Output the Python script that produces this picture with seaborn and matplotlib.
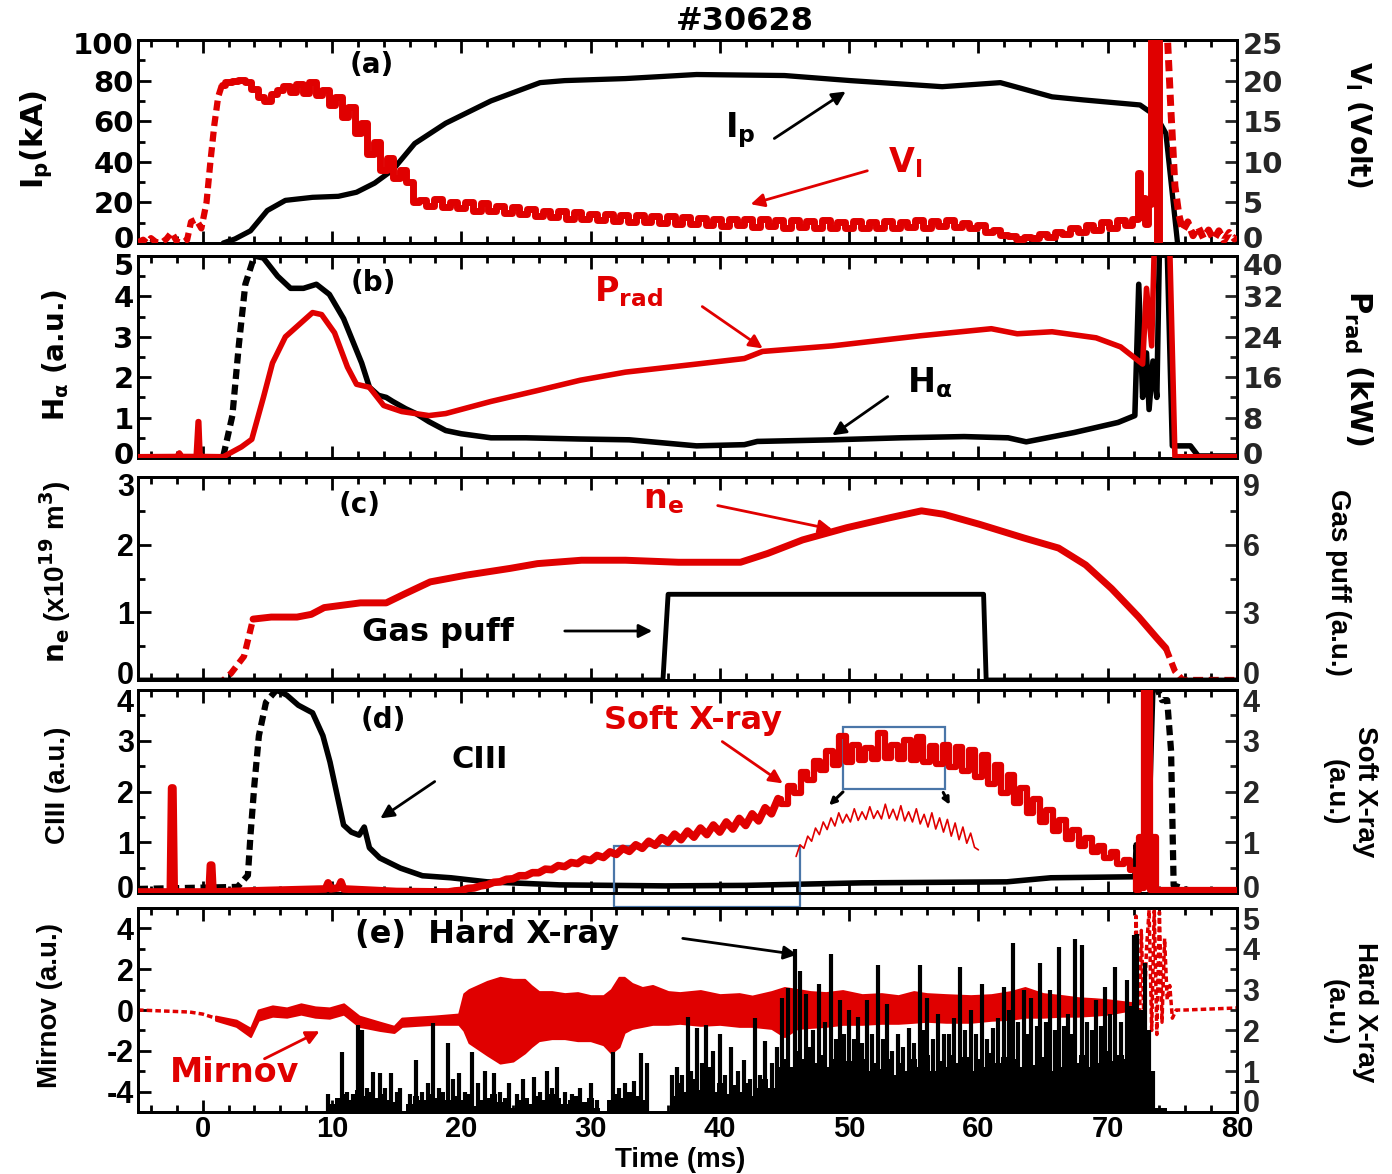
import numpy as np
import matplotlib
matplotlib.use("Agg")
import matplotlib.pyplot as plt
import seaborn as sns
from matplotlib.ticker import MultipleLocator
from matplotlib.patches import Rectangle, FancyArrowPatch
from matplotlib.transforms import ScaledTranslation

# ---------------- data ----------------
# (a) plasma current (kA) and loop voltage (V)
ip_t = [1.6, 2.5, 3.7, 5.0, 6.4, 8.5, 10.5, 11.9, 13.3, 14.7, 16.4, 18.8, 22.3, 26.1, 28.0,
        32.7, 38.2, 45.0, 50.1, 57.2, 61.7, 65.7, 68.1, 72.5, 73.4, 73.8, 74.5, 75.4]
ip_v = [0, 2, 6, 16, 21, 22.5, 23, 25, 29.5, 36, 49, 59, 70, 79, 80,
        81, 83, 82.5, 80, 77, 79, 72, 70.5, 68, 64, 62, 54, 0]

vl_pre_t = [-5, -4.6, -4.3, -4.0, -3.6, -3.2, -2.8, -2.4, -2.0, -1.6, -1.2, -0.9, -0.5, -0.1,
            0.3, 0.6, 0.9, 1.2, 1.5]
vl_pre_v = [0.1, 0.4, 0.0, 0.6, 0.1, 0.0, 0.5, 1.3, 0.2, 0.0, 0.4, 2.6, 2.9, 1.8,
            5.0, 10.0, 14.5, 18.0, 19.5]
vl_t = [1.5, 2, 2.5, 3, 3.5, 4, 4.5, 5, 5.5, 6, 6.5, 7, 7.5, 8, 8.5, 9, 9.5, 10, 10.5, 11,
        11.5, 12, 12.5, 13, 13.5, 14, 14.5, 15, 15.5, 16, 16.5,
        17, 17.6, 18.2, 18.8, 19.4, 20, 20.6, 21.2, 21.8, 22.4, 23, 23.6, 24.2, 24.8, 25.4,
        26, 26.6, 27.2, 27.8, 28.4, 29, 29.6, 30.2, 30.8, 31.4, 32, 32.6, 33.2, 33.8, 34.4,
        35, 35.6, 36.2, 36.8, 37.4, 38, 38.6, 39.2, 39.8, 40.4, 41, 41.6, 42.2, 42.8, 43.4,
        44, 44.6, 45.2, 45.8, 46.4, 47, 47.6, 48.2, 48.8, 49.4, 50, 50.6, 51.2, 51.8, 52.4,
        53, 53.6, 54.2, 54.8, 55.4, 56, 56.6, 57.2, 57.8, 58.4, 59, 59.6, 60.2, 60.8, 61.4,
        62, 62.6, 63.2, 63.8, 64.4, 65, 65.6, 66.2, 66.8, 67.4, 68, 68.6, 69.2, 69.8, 70.4,
        71, 71.6, 72.2, 72.45, 72.6, 72.8, 73.0, 73.2, 73.45, 73.7, 73.9, 74.1]
vl_v = [19.5, 19.8, 20.0, 20.1, 19.8, 19.0, 18.0, 17.5, 18.3, 18.8, 19.3, 18.6, 19.6, 18.5, 19.8,
        18.2, 18.8, 17.0, 18.0, 15.5, 16.8, 13.5, 14.8, 11.0, 12.5, 9.0, 10.5, 8.0, 9.0, 7.5, 5.0,
        5.3, 4.6, 5.4, 4.4, 5.1, 4.3, 5.0, 4.0, 4.9, 3.9, 4.6, 3.7, 4.4, 3.6, 4.2,
        3.3, 4.0, 3.2, 3.9, 3.0, 3.8, 3.0, 3.6, 2.8, 3.6, 2.7, 3.4, 2.6, 3.5, 2.6,
        3.3, 2.5, 3.3, 2.4, 3.2, 2.3, 3.1, 2.2, 3.0, 2.1, 3.0, 2.2, 2.9, 2.0, 2.9,
        2.1, 2.8, 1.9, 2.8, 2.0, 2.7, 1.9, 2.8, 1.8, 2.6, 1.9, 2.7, 1.8, 2.6, 1.9,
        2.7, 1.8, 2.6, 2.0, 2.8, 1.9, 2.7, 2.1, 2.8, 2.0, 2.5, 1.8, 2.2, 1.4, 1.6,
        1.0, 0.9, 0.5, 0.8, 0.6, 1.1, 0.8, 1.4, 1.1, 1.9, 1.3, 2.2, 1.6, 2.6, 1.9,
        2.8, 2.2, 3.0, 8.6, 3.2, 5.5, 2.4, 4.8, 26, 26, -0.5, 26]
vl_post_t = [74.1, 74.3, 74.6, 74.9, 75.2, 75.5, 75.8, 76.2, 76.6, 77.0, 77.4, 77.8, 78.2,
             78.6, 79.0, 79.4, 79.8, 80]
vl_post_v = [26, 26, 26, 16, 7, 3.5, 1.5, 2.6, 0.9, 2.0, 0.6, 1.6, 0.4, 1.5, 0.3, 1.3, 0.5, 0.8]

# (b) H-alpha (a.u.) and radiated power (kW)
ha_t = [1.6, 2.3, 2.8, 3.3, 4.0, 4.7, 5.8, 6.8, 7.8, 8.8, 9.8, 10.9, 11.6, 12.3, 12.9, 13.6,
        14.2, 14.7, 15.7, 16.5, 17.5, 18.8, 20, 22.3, 25, 29.2, 33, 38.2, 41.9, 42.9, 48.7, 54,
        58.9, 62.3, 63.7, 67.4, 70.8, 72.1, 72.4, 72.7, 73.0, 73.2, 73.5, 73.8, 74.0, 74.6,
        75.0, 76.4, 77, 80]
ha_v = [0.05, 1.05, 2.8, 4.3, 5.0, 4.95, 4.5, 4.2, 4.2, 4.3, 4.05, 3.45, 2.9, 2.35, 1.75, 1.55,
        1.5, 1.4, 1.22, 1.1, 0.9, 0.68, 0.6, 0.5, 0.5, 0.47, 0.45, 0.3, 0.33, 0.41, 0.45, 0.5,
        0.53, 0.5, 0.4, 0.63, 0.88, 1.05, 4.3, 1.5, 2.6, 1.2, 2.4, 1.5, 5.2, 5.2,
        0.3, 0.3, 0.05, 0.05]
prad_t = [-5, -2, -1.8, -1.6, -0.5, -0.35, -0.3, -0.2, -0.1, 1.6, 3.0, 3.8, 4.7, 5.4, 6.4, 7.1,
          8.5, 9.2, 10.2, 11.2, 11.9, 12.9, 14.0, 15.4, 17.5, 18.8, 22.3, 25.8, 29.2, 32.7,
          38.2, 41.9, 43.3, 48.7, 55.5, 61, 63, 65.7, 69.1, 71, 72.7, 73.0, 73.4, 73.6, 74.8,
          75.2, 80]
prad_v = [0.25, 0.3, 1.0, 0.3, 0.3, 7.2, 7.2, 0.3, 0.3, 0.25, 2.2, 3.7, 12, 18.8, 24, 25.6,
          28.8, 28.4, 24.8, 18, 14.6, 14, 10.4, 9.2, 8.4, 8.8, 11.2, 13.3, 15.4, 17,
          18.6, 19.7, 21.1, 22.2, 24.2, 25.6, 24.6, 25, 23.8, 22, 18.6, 33.6, 22.2, 41.6, 41.6,
          0.25, 0.25]

# (c) line-averaged density (1e19 m^-3) and gas puff (a.u.)
ne_t = [-5, 1.5, 2.2, 3.2, 3.9, 5.3, 7.3, 8.4, 9.4, 12.2, 14.2, 15.6, 17.6, 20.4, 23.8, 25.9,
        29.3, 32.7, 36.8, 41.6, 43.7, 46.4, 49.8, 53.2, 55.6, 57.3, 60.1, 63.5, 66.2, 68.3,
        70.3, 72.4, 73.8, 74.5, 75.2, 75.8, 80]
ne_v = [-0.02, -0.02, 0.1, 0.35, 0.9, 0.93, 0.93, 0.97, 1.07, 1.14, 1.14, 1.27, 1.45, 1.55,
        1.65, 1.72, 1.77, 1.77, 1.74, 1.74, 1.87, 2.07, 2.25, 2.4, 2.5, 2.45, 2.3, 2.1, 1.95,
        1.7, 1.35, 0.93, 0.62, 0.47, 0.13, 0.0, 0.0]
gas_t = [-5, 35.6, 36.0, 60.4, 60.6, 80]
gas_v = [0, 0, 3.8, 3.8, 0, 0]

# (d) CIII (a.u.) and soft X-ray (a.u.)
c3_t = [-5, 2.7, 3.5, 3.7, 4.0, 4.35, 4.9, 5.7, 6.5, 7.4, 8.5, 9.3, 9.85, 10.4, 10.9, 11.5,
        12.1, 12.5, 12.9, 13.7, 15.3, 17.0, 19.2, 22.0, 27.6, 35.8, 42, 51, 62.2, 65.6, 72.1,
        72.2, 72.4, 72.6, 72.8, 73.1, 73.5, 73.7, 74.2, 74.6, 74.9, 75.1, 76.3, 80]
c3_v = [0.08, 0.12, 0.35, 1.14, 2.13, 3.1, 3.76, 4.0, 3.9, 3.7, 3.55, 3.1, 2.58, 1.93, 1.34,
        1.2, 1.14, 1.3, 0.89, 0.69, 0.49, 0.34, 0.3, 0.22, 0.16, 0.14, 0.15, 0.2, 0.22, 0.3,
        0.32, 0.95, 0.5, 0.85, 0.4, 0.6, 4.1, 4.1, 3.8, 3.8, 2.8, 0.15, 0.05, 0.05]
sxr_t = [-5, -2.5, -2.4, -2.3, -2.2, 0.5, 0.6, 0.7, 0.8, 5, 9.5, 9.7, 9.9, 10.5, 10.7, 10.9, 15,
         19.0, 19.5, 20.0, 20.5, 21.0, 21.5, 22.0, 22.5, 23.0, 23.5, 24.0, 24.5, 25.0, 25.5,
         26.0, 26.5, 27.0, 27.5, 28.0, 28.5, 29.0, 29.5, 30.0, 30.5, 31.0, 31.5, 32.0, 32.5,
         33.0, 33.5, 34.0, 34.5, 35.0, 35.5, 36.0, 36.5, 37.0, 37.5, 38.0, 38.5, 39.0, 39.5,
         40.0, 40.5, 41.0, 41.5, 42.0, 42.5, 43.0, 43.5, 44.0, 44.5, 45.0, 45.5, 46.0, 46.5,
         47.0, 47.5, 48.0, 48.5, 49.0, 49.5, 50.0, 50.5, 51.0, 51.5, 52.0, 52.5, 53.0, 53.5,
         54.0, 54.5, 55.0, 55.5, 56.0, 56.5, 57.0, 57.5, 58.0, 58.5, 59.0, 59.5, 60.0, 60.5,
         61.0, 61.5, 62.0, 62.5, 63.0, 63.5, 64.0, 64.5, 65.0, 65.5, 66.0, 66.5, 67.0, 67.5,
         68.0, 68.5, 69.0, 69.5, 70.0, 70.5, 71.0, 71.5, 72.0,
         72.3, 72.5, 72.7, 72.9, 73.2, 73.4, 73.6, 73.8, 74.0, 80]
sxr_v = [0.02, 0.02, 2.07, 2.07, 0.02, 0.02, 0.55, 0.55, 0.02, 0.05, 0.08, 0.2, 0.08, 0.1, 0.22,
         0.08, 0.03,
         0.02, 0.04, 0.05, 0.09, 0.10, 0.14, 0.16, 0.21, 0.22, 0.27, 0.28, 0.34, 0.34, 0.40,
         0.40, 0.47, 0.46, 0.54, 0.52, 0.60, 0.58, 0.67, 0.64, 0.74, 0.70, 0.81, 0.76, 0.88,
         0.82, 0.95, 0.88, 1.02, 0.94, 1.09, 1.00, 1.16, 1.05, 1.22, 1.10, 1.28, 1.15, 1.34,
         1.20, 1.40, 1.26, 1.47, 1.33, 1.56, 1.42, 1.68, 1.56, 1.86, 1.75, 2.10, 1.98, 2.38,
         2.22, 2.60, 2.42, 2.80, 2.52, 3.10, 2.58, 2.92, 2.62, 2.85, 2.64, 3.15, 2.66, 2.92,
         2.64, 3.02, 2.62, 3.08, 2.58, 2.90, 2.54, 2.92, 2.48, 2.88, 2.40, 2.82, 2.28, 2.72,
         2.14, 2.52, 1.98, 2.32, 1.78, 2.06, 1.58, 1.86, 1.40, 1.64, 1.22, 1.44, 1.06, 1.24,
         0.92, 1.08, 0.80, 0.93, 0.68, 0.80, 0.58, 0.66, 0.45,
         0.05, 1.1, 0.1, 4.3, 4.3, 0.05, 1.1, 0.05, 0.05, 0.05]
inset_t = [45.9, 46.2, 46.5, 46.8, 47.1, 47.4, 47.7, 48.0, 48.3, 48.6, 48.9, 49.2, 49.5, 49.8,
           50.1, 50.4, 50.7, 51.0, 51.3, 51.6, 51.9, 52.2, 52.5, 52.8, 53.1, 53.4, 53.7, 54.0,
           54.3, 54.6, 54.9, 55.2, 55.5, 55.8, 56.1, 56.4, 56.7, 57.0, 57.3, 57.6, 57.9, 58.2,
           58.5, 58.8, 59.1, 59.4, 59.7, 60.0]
inset_v = [0.72, 0.95, 0.88, 1.12, 1.02, 1.28, 1.15, 1.40, 1.25, 1.48, 1.32, 1.58, 1.38, 1.55,
           1.40, 1.66, 1.43, 1.60, 1.45, 1.70, 1.47, 1.62, 1.46, 1.75, 1.47, 1.65, 1.44, 1.72,
           1.42, 1.60, 1.40, 1.66, 1.36, 1.55, 1.30, 1.58, 1.26, 1.48, 1.20, 1.45, 1.12, 1.38,
           1.05, 1.30, 0.98, 1.18, 0.90, 0.85]

# (e) Mirnov envelope (a.u.) and hard X-ray spikes (a.u.)
mir_t = [1.0, 2.6, 3.7, 4.3, 5.4, 6.5, 7.6, 8.7, 9.8, 10.9, 12.1, 13.7, 14.8, 15.4, 16.6, 17.9,
         19.8, 20.2, 20.6, 21.3, 22.0, 23.0, 24.0, 24.9, 25.4, 26.0, 27.0, 28.0, 29.0, 30.0,
         31.0, 31.6, 32.2, 32.6, 33.2, 34.0, 34.8, 36.0, 36.9, 38.5, 40.0, 41.5, 42.5, 44.0,
         45.0, 46.0, 47.0, 48.2, 49.5, 51.0, 52.5, 53.8, 55.0, 56.0, 57.5, 59.4, 61.0, 62.5,
         63.6, 65.0, 66.5, 67.7, 69.0, 70.0, 71.3, 72.0]
mir_hi = [-0.3, -0.5, -0.9, 0.0, 0.2, 0.1, 0.3, 0.15, 0.1, 0.3, -0.3, -0.6, -0.8, -0.4, -0.35,
          -0.3, -0.2, 0.8, 1.0, 1.2, 1.4, 1.6, 1.5, 1.5, 1.2, 0.9, 0.9, 0.8, 0.85, 0.7,
          0.7, 1.0, 1.6, 1.6, 1.3, 1.1, 1.2, 0.9, 0.85, 0.95, 0.75, 0.8, 0.68, 0.9,
          1.1, 1.0, 0.9, 0.85, 0.95, 0.75, 0.8, 0.7, 0.9, 0.8, 0.75, 0.7, 0.75, 0.9,
          1.1, 0.8, 0.7, 0.6, 0.55, 0.5, 0.4, 0.35]
mir_lo = [-0.5, -0.8, -1.3, -0.5, -0.3, -0.35, -0.2, -0.35, -0.4, -0.2, -0.8, -1.0, -1.1, -0.8,
          -0.75, -0.7, -0.7, -1.0, -1.6, -1.9, -2.2, -2.6, -2.5, -2.1, -1.8, -1.5, -1.4, -1.4,
          -1.5, -1.5, -1.7, -2.1, -1.8, -1.1, -0.9, -0.8, -0.7, -0.7, -0.65, -0.75, -0.7, -0.8,
          -0.8, -0.9, -1.3, -0.9, -0.85, -0.8, -0.7, -0.7, -0.65, -0.65, -0.6, -0.55, -0.6,
          -0.6, -0.5, -0.45, -0.35, -0.35, -0.3, -0.3, -0.25, -0.2, -0.05, -0.1]
mir_pre_t = [-5, -3, -1, 0, 1.0]
mir_pre_v = [0.0, -0.05, -0.1, -0.2, -0.4]
mir_post_t = [72.0, 72.2, 72.4, 72.6, 72.8, 73.0, 73.2, 73.4, 73.6, 73.8, 74.0, 74.2, 74.4,
              74.6, 74.8, 75.0, 75.3, 76, 78, 80]
mir_post_v = [0.2, 4.6, -2.4, 3.9, -0.5, 3.0, 4.9, -1.0, 5.0, -1.2, 4.8, -0.6, 3.5, 0.5, 1.2,
              -0.4, 0.0, 0.0, 0.05, 0.1]

hxr_t = [9.7, 10.8, 11.2, 11.6, 12.0, 12.3, 12.7, 13.2, 13.7, 14.1, 14.6, 15.0, 15.3, 16.0,
         16.5, 17.0, 17.4, 17.8, 18.3, 19.0, 19.4, 19.8, 20.3, 20.8, 21.3, 21.8, 22.5, 23.0,
         23.7, 24.3, 24.8, 25.6, 26.1, 26.6, 27.0, 27.4, 28.0, 28.6, 29.2, 30.0, 30.5, 31.7,
         32.2, 32.7, 33.4, 33.9, 34.4, 36.3, 36.7, 37.1, 37.5, 37.8, 38.2, 38.6, 38.9, 39.2,
         39.5, 40.0, 40.4, 40.9, 41.4, 41.9, 42.3, 42.7, 43.1, 43.5, 44.0, 44.4, 44.8, 45.3,
         45.8, 46.2, 46.7, 47.2, 47.7, 48.1, 48.6, 49.0, 49.3, 49.6, 50.0, 50.4, 50.7, 51.0,
         51.4, 51.8, 52.2, 52.6, 52.9, 53.3, 53.8, 54.2, 54.6, 55.0, 55.5, 55.8, 56.0, 56.5,
         56.9, 57.3, 57.7, 58.1, 58.6, 59.0, 59.4, 59.8, 60.3, 60.7, 61.1, 61.5, 62.0, 62.4,
         62.7, 63.1, 63.5, 63.8, 64.1, 64.5, 64.8, 65.2, 65.5, 65.9, 66.2, 66.6, 66.9, 67.2,
         67.5, 68.0, 68.4, 68.8, 69.1, 69.5, 69.8, 70.2, 70.6, 71.0, 71.5, 71.8, 72.0, 72.3,
         72.6, 72.9, 73.2, 73.5]
hxr_v = [0.45, 1.47, 0.5, 0.45, 2.13, 2.0, 0.6, 0.98, 0.95, 0.6, 0.95, 0.5, 0.6, 0.45,
         1.27, 0.5, 0.7, 2.19, 0.6, 1.69, 0.8, 0.95, 0.5, 1.47, 0.7, 1.0, 0.96, 0.5,
         0.7, 0.45, 0.8, 0.85, 0.5, 1.0, 0.6, 1.1, 0.5, 0.45, 0.6, 0.7, 0.3, 1.47,
         0.6, 0.7, 0.75, 1.45, 1.2, 0.9, 1.1, 0.9, 2.33, 1.0, 2.05, 1.2, 2.13, 1.1,
         1.5, 1.9, 0.9, 1.6, 1.0, 1.27, 0.8, 2.3, 0.9, 1.74, 1.2, 1.6, 2.8, 3.04,
         4.0, 3.46, 2.9, 2.0, 3.14, 2.2, 3.87, 1.8, 2.74, 1.9, 2.5, 1.8, 2.33, 1.7,
         2.74, 1.9, 3.6, 1.8, 2.65, 1.5, 1.9, 1.6, 2.07, 1.7, 3.6, 2.0, 2.8, 1.8,
         2.4, 1.9, 1.9, 2.3, 3.56, 2.0, 2.5, 1.9, 3.14, 1.8, 2.05, 2.3, 3.06, 2.5,
         4.13, 2.2, 2.98, 1.9, 2.8, 2.1, 3.66, 2.2, 2.98, 2.0, 4.05, 2.1, 2.4, 1.9,
         4.25, 4.09, 2.2, 2.0, 2.74, 2.1, 3.06, 2.4, 3.56, 2.2, 3.24, 2.6, 4.33, 4.37,
         2.5, 3.66, 2.0, 1.0]
hxr_base = [(9.5, 0), (10.0, 0.2), (10.5, 0.35), (11.0, 0.45), (11.5, 0.3), (12.0, 0.55),
            (12.5, 0.4), (13.0, 0.5), (13.5, 0.35), (14.0, 0.45), (14.5, 0.3), (15.0, 0.25),
            (15.5, 0.0), (16.0, 0.2), (16.5, 0.4), (17.0, 0.3), (17.5, 0.45), (18.0, 0.35),
            (18.5, 0.5), (19.0, 0.3), (19.5, 0.4), (20.0, 0.3), (20.5, 0.45), (21.0, 0.15),
            (21.5, 0.3), (22.0, 0.35), (22.5, 0.45), (23.0, 0.25), (23.5, 0.35), (24.0, 0.1),
            (24.5, 0.3), (25.0, 0.35), (25.5, 0.2), (26.0, 0.4), (26.5, 0.3), (27.0, 0.45),
            (27.5, 0.35), (28.0, 0.2), (28.5, 0.3), (29.0, 0.4), (29.5, 0.25), (30.0, 0.35),
            (30.5, 0.1), (31.0, 0.0), (31.5, 0.3), (32.0, 0.45), (32.5, 0.35), (33.0, 0.5),
            (33.5, 0.4), (34.0, 0.3), (34.5, 0.0), (36.0, 0.0), (36.5, 0.4), (37.0, 0.7),
            (37.5, 0.5), (38.0, 0.8), (38.5, 0.55), (39.0, 0.75), (39.5, 0.5), (40.0, 0.7),
            (40.5, 0.45), (41.0, 0.65), (41.5, 0.5), (42.0, 0.7), (42.5, 0.4), (43.0, 0.6),
            (43.5, 0.8), (44.0, 0.6), (44.5, 1.1), (45.0, 1.3), (45.5, 1.1), (46.0, 1.5),
            (46.5, 1.3), (47.0, 1.6), (47.5, 1.2), (48.0, 1.4), (48.5, 1.1), (49.0, 1.3),
            (49.5, 1.0), (50.0, 1.25), (50.5, 1.1), (51.0, 1.3), (51.5, 1.0), (52.0, 1.2),
            (52.5, 1.05), (53.0, 1.3), (53.5, 0.9), (54.0, 1.2), (54.5, 1.0), (55.0, 1.3),
            (55.5, 1.1), (56.0, 1.4), (56.5, 1.0), (57.0, 1.25), (57.5, 1.1), (58.0, 1.4),
            (58.5, 1.2), (59.0, 1.35), (59.5, 1.0), (60.0, 1.3), (60.5, 1.1), (61.0, 1.45),
            (61.5, 1.2), (62.0, 1.35), (62.5, 1.05), (63.0, 1.3), (63.5, 1.1), (64.0, 1.4),
            (64.5, 1.15), (65.0, 1.35), (65.5, 1.0), (66.0, 1.3), (66.5, 1.1), (67.0, 1.45),
            (67.5, 1.2), (68.0, 1.4), (68.5, 1.1), (69.0, 1.35), (69.5, 1.2), (70.0, 1.5),
            (70.5, 1.25), (71.0, 1.4), (71.5, 1.3), (72.0, 1.5), (72.5, 1.2), (73.0, 1.0),
            (73.5, 0.3), (73.8, 0.1), (74.5, 0.1), (74.6, 0.0)]

x_ticks = [0, 10, 20, 30, 40, 50, 60, 70, 80]

# ---------------- figure ----------------
sns.set_theme(style="ticks")
plt.rcParams["font.family"] = ["DejaVu Sans"]
plt.rcParams["font.weight"] = "bold"
plt.rcParams["mathtext.fontset"] = "dejavusans"
plt.rcParams["axes.linewidth"] = 2.0

W, H = 1392, 1174
RED = "#e00000"
fig = plt.figure(figsize=(W / 100, H / 100), dpi=100)


def frame(top, bottom, left=138, right=1237):
    return [left / W, 1 - bottom / H, (right - left) / W, (bottom - top) / H]


def P(px, py):
    return (px / W, 1 - py / H)


def line(ax, t, v, color, lw, ls="-", z=3, steps=False):
    kw = dict(drawstyle="steps-mid") if steps else {}
    sns.lineplot(x=np.asarray(t, float), y=np.asarray(v, float), ax=ax, color=color,
                 linewidth=lw, linestyle=ls, estimator=None, sort=False, zorder=z, **kw)


DASH = (0, (1.6, 0.9))

axes = []
for top, bot in [(40, 243), (256, 458), (477, 680), (690, 893), (908, 1112)]:
    a = fig.add_axes(frame(top, bot))
    b = a.twinx()
    axes.append((a, b))

(aA, aA2), (aB, aB2), (aC, aC2), (aD, aD2), (aE, aE2) = axes

# (a)
line(aA, ip_t, ip_v, "black", 3.8)
line(aA2, vl_pre_t, vl_pre_v, RED, 4.5, DASH)
line(aA2, vl_t, vl_v, RED, 5, steps=True)
line(aA2, vl_post_t, vl_post_v, RED, 5, DASH)
# (b)
line(aB, ha_t[:5], ha_v[:5], "black", 4.5, DASH)
line(aB, ha_t[4:], ha_v[4:], "black", 4.0)
line(aB2, prad_t, prad_v, RED, 4.0)
# (c)
line(aC, ne_t[:5], ne_v[:5], RED, 4.5, DASH)
line(aC, ne_t[4:-3], ne_v[4:-3], RED, 5)
line(aC, ne_t[-4:], ne_v[-4:], RED, 4.5, DASH)
line(aC2, gas_t, gas_v, "black", 3.5)
# (d)
line(aD, c3_t[:8], c3_v[:8], "black", 4.5, DASH)
line(aD, c3_t[7:38], c3_v[7:38], "black", 4.0)
line(aD, c3_t[37:], c3_v[37:], "black", 4.5, DASH)
k = sxr_t.index(44.5)
line(aD2, sxr_t[:k + 1], sxr_v[:k + 1], RED, 5.5)
line(aD2, sxr_t[k:], sxr_v[k:], RED, 4.5, steps=True)
line(aD2, inset_t, inset_v, RED, 1.2)
# (e)
aE.fill_between(mir_t, mir_lo, mir_hi, color=RED, lw=1.5, edgecolor=RED)
line(aE, mir_pre_t, mir_pre_v, RED, 2.5, DASH)
line(aE, mir_post_t, mir_post_v, RED, 2.5, DASH)
aE2.fill_between([p[0] for p in hxr_base], 0, [p[1] for p in hxr_base], color="black",
                 lw=0, step="mid")
aE2.vlines(hxr_t, 0, hxr_v, color="black", lw=3.0)

# ---------------- axes styling ----------------
# (axes, twin, left lim, left ticks, left minor, right lim, right ticks, right minor, font, size,
#  pixel shift of the top / bottom edge labels)
specs = [
    (aA, aA2, (0, 100), [0, 20, 40, 60, 80, 100], 10, (0, 25), [0, 5, 10, 15, 20, 25], 2.5, "DejaVu Sans", 21, (-3, 6)),
    (aB, aB2, (0, 5), [0, 1, 2, 3, 4, 5], 0.5, (0, 40), [0, 8, 16, 24, 32, 40], 4, "DejaVu Sans", 21, (-8, 5)),
    (aC, aC2, (0, 3), [0, 1, 2, 3], 0.5, (0, 9), [0, 3, 6, 9], 1.5, "Liberation Sans", 22, (-8, 7)),
    (aD, aD2, (0, 4), [0, 1, 2, 3, 4], 0.5, (0, 4), [0, 1, 2, 3, 4], 0.5, "Liberation Sans", 22, (-11, 6)),
    (aE, aE2, (-5, 5), [-4, -2, 0, 2, 4], 1, (0, 5), [0, 1, 2, 3, 4, 5], 0.5, "Liberation Sans", 22, (-10, 11)),
]
for i, (a, b, yl, yt, ym, yl2, yt2, ym2, fam, fs, shift) in enumerate(specs):
    a.set_xlim(-5, 80)
    a.set_ylim(*yl)
    b.set_ylim(*yl2)
    a.set_xlabel("")
    a.set_ylabel("")
    b.set_ylabel("")
    a.set_yticks(yt, labels=[str(v) for v in yt], fontfamily=fam, fontsize=fs, fontweight="bold")
    b.set_yticks(yt2, labels=[str(v) for v in yt2], fontfamily=fam, fontsize=fs, fontweight="bold")
    a.yaxis.set_minor_locator(MultipleLocator(ym))
    b.yaxis.set_minor_locator(MultipleLocator(ym2))
    a.xaxis.set_minor_locator(MultipleLocator(2))
    if i == 4:
        a.set_xticks(x_ticks, labels=[str(v) for v in x_ticks], fontfamily="Liberation Sans",
                     fontsize=21, fontweight="bold")
    else:
        a.set_xticks(x_ticks, labels=[""] * len(x_ticks))
    a.tick_params(which="both", direction="in", top=True, bottom=True, left=True, right=False,
                  width=2, pad=3, colors="black")
    a.tick_params(which="major", length=9)
    a.tick_params(which="minor", length=5)
    a.tick_params(axis="x", pad=2)
    b.tick_params(which="both", direction="in", right=True, left=False, width=2, pad=4)
    b.tick_params(which="major", length=9)
    b.tick_params(which="minor", length=5)
    for s in list(a.spines.values()) + list(b.spines.values()):
        s.set_linewidth(2)
        s.set_color("black")
    # nudge the edge labels inward, as in the reference
    for ax_, lim, ticks in ((a, yl, yt), (b, yl2, yt2)):
        ticks_objs = ax_.yaxis.get_major_ticks()
        if ticks[0] == lim[0]:
            for lab in (ticks_objs[0].label1, ticks_objs[0].label2):
                lab.set_transform(lab.get_transform()
                                  + ScaledTranslation(0, shift[1] / 100, fig.dpi_scale_trans))
        if ticks[-1] == lim[1]:
            for lab in (ticks_objs[-1].label1, ticks_objs[-1].label2):
                lab.set_transform(lab.get_transform()
                                  + ScaledTranslation(0, shift[0] / 100, fig.dpi_scale_trans))

# ---------------- texts ----------------
def ftext(px, py, s, size, color="black", rot=0, fam="DejaVu Sans", ha="center", va="center"):
    fig.text(*P(px, py), s, fontsize=size, color=color, rotation=rot, fontfamily=fam,
             fontweight="bold", ha=ha, va=va)


def farrow(p0, p1, color="black"):
    fig.patches.append(FancyArrowPatch(
        P(*p0), P(*p1), transform=fig.transFigure, arrowstyle="-|>", mutation_scale=20,
        color=color, lw=2))


ftext(745, 22, "#30628", 23)
ftext(372, 65, "(a)", 20)
ftext(740, 130, r"$\mathbf{I_p}$", 24)
ftext(905, 163, r"$\mathbf{V_l}$", 24, RED)
ftext(373, 283, "(b)", 20)
ftext(628, 292, r"$\mathbf{P_{rad}}$", 24, RED)
ftext(930, 383, r"$\mathbf{H_\alpha}$", 24)
ftext(360, 505, "(c)", 20)
ftext(663, 500, r"$\mathbf{n_e}$", 24, RED)
ftext(438, 632, "Gas puff", 23)
ftext(383, 720, "(d)", 20)
ftext(480, 760, "CIII", 22)
ftext(693, 720, "Soft X-ray", 23, RED)
ftext(487, 935, "(e)  Hard X-ray", 23)
ftext(235, 1073, "Mirnov", 24, RED)

farrow((772, 140), (848, 90))
farrow((870, 170), (748, 205), RED)
farrow((700, 305), (765, 350), RED)
farrow((890, 395), (830, 437))
farrow((715, 505), (835, 530), RED)
farrow((562, 631), (655, 631))
farrow((437, 780), (378, 820))
farrow((720, 740), (785, 785), RED)
farrow((680, 938), (800, 955))
farrow((262, 1060), (322, 1030), RED)

# axis titles
ftext(36, 140, r"$\mathbf{I_p}$(kA)", 22, rot=90)
ftext(1358, 125, r"$\mathbf{V_l}$ (Volt)", 20, rot=270)
ftext(56, 355, r"$\mathbf{H_\alpha}$ (a.u.)", 20, rot=90)
ftext(1358, 368, r"$\mathbf{P_{rad}}$ (kW)", 22, rot=270)
ftext(55, 572, r"$\mathbf{n_e}$ (x10$^{\mathbf{19}}$ m$^{\mathbf{3}}$)", 20, rot=90, fam="Liberation Sans")
ftext(1338, 582, "Gas puff (a.u.)", 20, rot=270, fam="Liberation Sans")
ftext(58, 785, "CIII (a.u.)", 20, rot=90, fam="Liberation Sans")
ftext(1350, 792, "Soft X-ray\n(a.u.)", 20, rot=270, fam="Liberation Sans")
ftext(50, 1005, "Mirnov (a.u.)", 20, rot=90, fam="Liberation Sans")
ftext(1350, 1012, "Hard X-ray\n(a.u.)", 20, rot=270, fam="Liberation Sans")
ftext(680, 1160, "Time (ms)", 20, fam="Liberation Sans")

# zoom boxes in panel (d)
BLUE = "#4a76a8"
aD.add_patch(Rectangle((49.5, 2.05), 7.9, 1.22, fill=False, ec=BLUE, lw=1.6, zorder=6))
aD.add_patch(Rectangle((31.8, -0.28), 14.4, 1.21, fill=False, ec=BLUE, lw=1.6, zorder=6,
                       clip_on=False))
aD.annotate("", xy=(48.3, 1.69), xytext=(49.68, 2.03),
            arrowprops=dict(arrowstyle="-|>", color="black", lw=2.2, mutation_scale=10))
aD.annotate("", xy=(57.88, 1.69), xytext=(57.18, 2.03),
            arrowprops=dict(arrowstyle="-|>", color="black", lw=2.2, mutation_scale=10))

fig.savefig("out.png", dpi=100)
